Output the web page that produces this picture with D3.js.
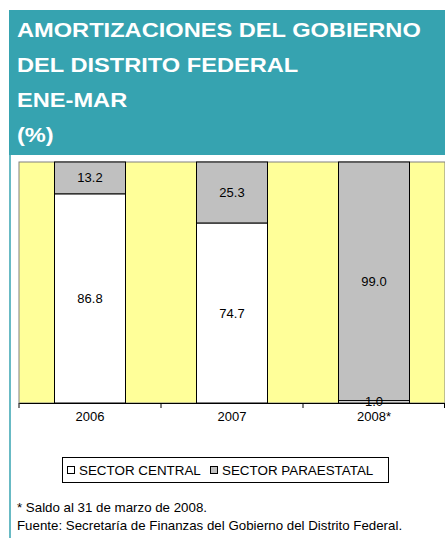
<!DOCTYPE html>
<html>
<head>
<meta charset="utf-8">
<script src="https://cdn.jsdelivr.net/npm/d3@7"></script>
<style>
  body { margin: 0; background: #fff; }
  text { font-family: "Liberation Sans", Arial, sans-serif; }
</style>
</head>
<body>
<div id="chart"></div>
<script>
// data
const years = ["2006", "2007", "2008*"];
const central = [86.8, 74.7, 1.0];
const paraestatal = [13.2, 25.3, 99.0];
const titleLines = ["AMORTIZACIONES DEL GOBIERNO", "DEL DISTRITO FEDERAL", "ENE-MAR", "(%)"];
const notes = ["* Saldo al 31 de marzo de 2008.", "Fuente: Secretaría de Finanzas del Gobierno del Distrito Federal."];

const W = 445, H = 538;
const TEAL = "#36a3b0";
const plot = { left: 19, right: 445, top: 162, bottom: 403 };

const svg = d3.select("#chart")
    .append("svg")
        .attr("width", W)
        .attr("height", H);

// header box
svg.append("rect")
    .attr("x", 9).attr("y", 10)
    .attr("width", W - 9).attr("height", 145)
    .attr("fill", TEAL);

svg.append("line")
    .attr("x1", 10).attr("x2", 10)
    .attr("y1", 155).attr("y2", H)
    .attr("stroke", TEAL)
    .attr("stroke-width", 1.5);

// title is a bit wider in the original than plain bold Arial, so stretch it
const titles = svg.selectAll(".title")
    .data(titleLines)
    .enter()
    .append("text")
        .attr("class", "title")
        .attr("fill", "#fff")
        .attr("font-size", 21)
        .attr("font-weight", "bold")
        .text(d => d);
const firstWidth = titles.node().getComputedTextLength();
const stretch = 404 / firstWidth;
titles.attr("transform", (d, i) => `translate(17, ${37 + i * 35}) scale(${stretch}, 1)`);

// scales
const x = d3.scaleBand()
    .domain(years)
    .range([plot.left, plot.right])
    .paddingInner(0.5)
    .paddingOuter(0.25);

const y = d3.scaleLinear()
    .domain([0, 100])
    .range([plot.bottom, plot.top]);

// plot background
svg.append("rect")
    .attr("x", plot.left).attr("y", plot.top)
    .attr("width", plot.right - plot.left)
    .attr("height", plot.bottom - plot.top)
    .attr("fill", "#ffff99")
    .attr("stroke", "#808080")
    .attr("stroke-width", 1);

const rows = years.map((yr, i) => ({ year: yr, central: central[i], para: paraestatal[i] }));

// central (bottom, white)
svg.selectAll(".central")
    .data(rows)
    .enter()
    .append("rect")
        .attr("x", d => x(d.year))
        .attr("y", d => y(d.central))
        .attr("width", x.bandwidth())
        .attr("height", d => y(0) - y(d.central))
        .attr("fill", "#fff")
        .attr("stroke", "#000")
        .attr("stroke-width", 1);

// paraestatal (top, gray)
svg.selectAll(".para")
    .data(rows)
    .enter()
    .append("rect")
        .attr("x", d => x(d.year))
        .attr("y", d => y(d.central + d.para))
        .attr("width", x.bandwidth())
        .attr("height", d => y(d.central) - y(d.central + d.para))
        .attr("fill", "#c0c0c0")
        .attr("stroke", "#000")
        .attr("stroke-width", 1);

// value labels
rows.forEach(d => {
    svg.append("text")
        .attr("x", x(d.year) + x.bandwidth() / 2)
        .attr("y", y(d.central / 2))
        .attr("dy", "0.35em")
        .attr("text-anchor", "middle")
        .attr("font-size", 13)
        .text(d.central.toFixed(1));
    svg.append("text")
        .attr("x", x(d.year) + x.bandwidth() / 2)
        .attr("y", y(d.central + d.para / 2))
        .attr("dy", "0.35em")
        .attr("text-anchor", "middle")
        .attr("font-size", 13)
        .text(d.para.toFixed(1));
});

// x axis: labels in the middle of the bands, ticks between them
const axis = svg.append("g")
    .attr("transform", `translate(0, ${plot.bottom})`)
    .call(d3.axisBottom(x).tickSize(0).tickPadding(9));
axis.select(".domain").attr("stroke", "#000");
axis.selectAll("text")
    .attr("font-size", 13)
    .attr("font-family", "Liberation Sans, Arial, sans-serif")
    .attr("fill", "#000");

const bounds = d3.range(years.length + 1).map(i => plot.left + i * x.step());
svg.selectAll(".tick-mark")
    .data(bounds)
    .enter()
    .append("line")
        .attr("x1", d => Math.min(d, W - 0.5)).attr("x2", d => Math.min(d, W - 0.5))
        .attr("y1", plot.bottom).attr("y2", plot.bottom + 5)
        .attr("stroke", "#000");

// legend
const lg = svg.append("g");
lg.append("rect")
    .attr("x", 62.5).attr("y", 457.5)
    .attr("width", 326).attr("height", 25)
    .attr("fill", "#fff")
    .attr("stroke", "#000");

const legendItems = [
    { label: "SECTOR CENTRAL", fill: "#fff", x: 67 },
    { label: "SECTOR PARAESTATAL", fill: "#c0c0c0", x: 210 }
];
legendItems.forEach(it => {
    lg.append("rect")
        .attr("x", it.x + 0.5).attr("y", 466.5)
        .attr("width", 7).attr("height", 7)
        .attr("fill", it.fill)
        .attr("stroke", "#000");
    lg.append("text")
        .attr("x", it.x + 12)
        .attr("y", 475)
        .attr("font-size", 13.4)
        .text(it.label);
});

// footnotes
svg.selectAll(".note")
    .data(notes)
    .enter()
    .append("text")
        .attr("x", 17)
        .attr("y", (d, i) => 512 + i * 18)
        .attr("font-size", 13.3)
        .text(d => d);
</script>
</body>
</html>
